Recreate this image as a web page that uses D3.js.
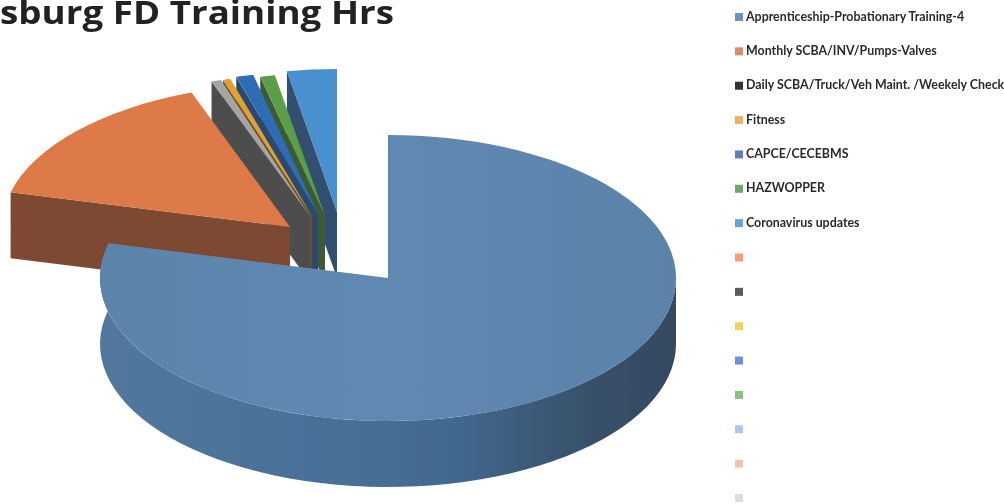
<!DOCTYPE html>
<html>
<head>
<meta charset="utf-8">
<script src="https://cdn.jsdelivr.net/npm/d3@7"></script>
<style>
  html, body { margin: 0; padding: 0; background: #fff; overflow: hidden; }
  svg { display: block; }
  text { font-family: Lato, "Open Sans", sans-serif; }
</style>
</head>
<body>
<div id="chart"></div>
<script>
const titleText = 'sburg FD Training Hrs';

const categories = [
  'Apprenticeship-Probationary Training-4',
  'Monthly SCBA/INV/Pumps-Valves',
  'Daily SCBA/Truck/Veh Maint. /Weekely Check',
  'Fitness',
  'CAPCE/CECEBMS',
  'HAZWOPPER',
  'Coronavirus updates',
  '', '', '', '', '', '', '', ''
];
// percent of total hours
const values = [78.9, 15.55, 0.55, 0.42, 0.97, 0.83, 2.78];

const legendColors = ['#6a94bf', '#dd8a68', '#333333', '#ecb45f', '#5f7fb8', '#6fa868', '#64a5d8',
  '#fb9f72', '#5c5c5c', '#f5cf5e', '#6f8fd6', '#86c47e', '#b0c8f0', '#eec4b0', '#dddddd'];
const topColors = ['#5f86ad', '#dd7a47', '#a5a5a5', '#e0a032', '#2f6db5', '#5b9e46', '#4a90cf'];
const wallColors = [null, '#7d4a30', '#4e4e4e', '#6b5020', '#2c4a70', '#3a5a34', '#33506f'];

// how far each slice is pulled out of the pie, [dx, dy]
const explode = [[0, 0], [-98, -51], [-78, -62], [-76, -62], [-70, -64], [-63, -62], [-51, -66]];

const width = 1004, height = 504;
const cx = 388, cy = 278, rx = 288, ry = 143, depth = 66;

const svg = d3.select('#chart').append('svg')
  .attr('width', width).attr('height', height);

const defs = svg.append('defs');
const wallGrad = defs.append('linearGradient').attr('id', 'bigWall');
[[0, '#52789c'], [0.35, '#4a7199'], [0.6, '#436a90'], [0.85, '#38506b'], [1, '#35495f']].forEach(([o, c]) => {
  wallGrad.append('stop').attr('offset', o).attr('stop-color', c);
});
const topGrad = defs.append('linearGradient').attr('id', 'bigTop');
[[0, '#5c84ab'], [0.5, '#6089b2'], [1, '#5b82a9']].forEach(([o, c]) => {
  topGrad.append('stop').attr('offset', o).attr('stop-color', c);
});
defs.append('filter').attr('id', 'scan').append('feGaussianBlur').attr('stdDeviation', 0.5);

const slices = d3.pie().sort(null).value((d) => d)
  .startAngle(0).endAngle(2 * Math.PI)(values);

const arc = d3.arc().innerRadius(0).outerRadius(1);
const line = d3.line();

// point on the rim of the ellipse for a pie angle
const rim = (a, off, down = 0) => [
  cx + off[0] + rx * Math.sin(a),
  cy + off[1] + ry * -Math.cos(a) + down
];

const outerWall = (a0, a1) => {
  const steps = d3.range(0, 61).map((i) => a0 + ((a1 - a0) * i) / 60);
  const off = [0, 0];
  const pts = steps.map((a) => rim(a, off)).concat(steps.slice().reverse().map((a) => rim(a, off, depth)));
  return line(pts) + 'Z';
};

const cutWall = (a, off) => {
  const ax = cx + off[0], ay = cy + off[1];
  const r = rim(a, off);
  return line([r, [ax, ay], [ax, ay + depth], [r[0], r[1] + depth]]) + 'Z';
};

const pieG = svg.append('g').attr('filter', 'url(#scan)');

// exploded slices back to front, big slice goes last
const order = [6, 5, 4, 3, 2, 1];
order.forEach((i) => {
  const s = slices[i];
  const off = explode[i];
  pieG.append('path').attr('d', cutWall(s.startAngle, off)).attr('fill', wallColors[i]);
  pieG.append('path')
    .attr('d', arc(s))
    .attr('transform', `translate(${cx + off[0]},${cy + off[1]}) scale(${rx},${ry})`)
    .attr('fill', topColors[i]);
});

pieG.append('path')
  .attr('d', outerWall(Math.PI / 2, slices[0].endAngle))
  .attr('fill', 'url(#bigWall)');
pieG.append('path')
  .attr('d', arc(slices[0]))
  .attr('transform', `translate(${cx},${cy}) scale(${rx},${ry})`)
  .attr('fill', 'url(#bigTop)');

svg.append('text')
  .attr('x', 0).attr('y', 24)
  .attr('textLength', 394).attr('lengthAdjust', 'spacingAndGlyphs')
  .attr('font-size', 32).attr('font-weight', 700)
  .style('font-family', '"Open Sans", sans-serif')
  .attr('fill', '#222')
  .attr('filter', 'url(#scan)')
  .text(titleText);

const legendY = d3.scalePoint().domain(d3.range(categories.length)).range([17, 498]);

const legend = svg.append('g').attr('filter', 'url(#scan)')
  .selectAll('g').data(categories).join('g')
  .attr('transform', (d, i) => `translate(735,${legendY(i)})`);

legend.append('rect')
  .attr('x', 0).attr('y', -4).attr('width', 8).attr('height', 8)
  .attr('fill', (d, i) => legendColors[i]);

legend.append('text')
  .attr('x', 11).attr('y', 3.5)
  .attr('font-size', 12.4).attr('font-weight', 700)
  .attr('fill', '#2b2b2b')
  .text((d) => d);
</script>
</body>
</html>
